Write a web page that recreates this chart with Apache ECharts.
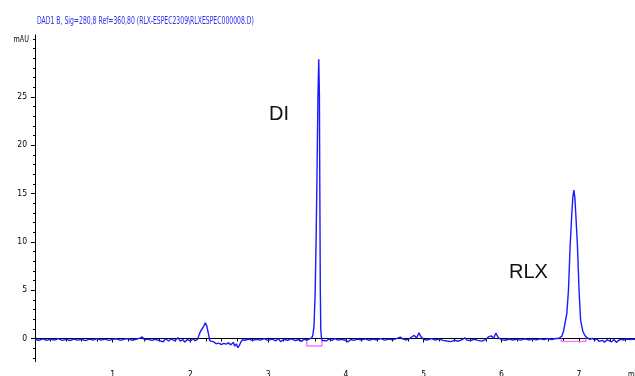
<!DOCTYPE html>
<html>
<head>
<meta charset="utf-8">
<script src="https://cdn.jsdelivr.net/npm/echarts@6/dist/echarts.min.js"></script>
<style>
  html, body { margin: 0; padding: 0; background: #fff; }
  #chart { width: 635px; height: 376px; }
</style>
</head>
<body>
<div id="chart"></div>
<script>
// Chromatogram trace: retention time (min) and detector response (mAU)
const timeMin = [
  0.00, 0.05, 0.10, 0.15, 0.20, 0.25, 0.30, 0.35, 0.40, 0.45,
  0.50, 0.55, 0.60, 0.65, 0.70, 0.75, 0.80, 0.85, 0.90, 0.95,
  1.00, 1.05, 1.10, 1.15, 1.20, 1.25, 1.30, 1.35, 1.38, 1.41,
  1.45, 1.50, 1.55, 1.60, 1.65, 1.68, 1.72, 1.75, 1.80, 1.84,
  1.87, 1.90, 1.93, 1.96, 2.00, 2.03, 2.06, 2.09, 2.11, 2.13,
  2.15, 2.17, 2.19, 2.21, 2.23, 2.25, 2.27, 2.30, 2.33, 2.36,
  2.40, 2.43, 2.46, 2.49, 2.52, 2.55, 2.57, 2.59, 2.61, 2.63,
  2.65, 2.67, 2.70, 2.75, 2.80, 2.85, 2.90, 2.95, 3.00, 3.05,
  3.10, 3.13, 3.16, 3.20, 3.25, 3.30, 3.35, 3.40, 3.43, 3.46,
  3.50, 3.53, 3.56, 3.575, 3.59, 3.605, 3.618, 3.63, 3.641, 3.651,
  3.659, 3.665, 3.671, 3.677, 3.685, 3.695, 3.72, 3.75, 3.78, 3.82,
  3.86, 3.90, 3.95, 4.00, 4.03, 4.06, 4.10, 4.15, 4.20, 4.25,
  4.30, 4.35, 4.40, 4.45, 4.50, 4.55, 4.60, 4.65, 4.70, 4.73,
  4.77, 4.81, 4.85, 4.88, 4.91, 4.94, 4.97, 5.00, 5.05, 5.10,
  5.15, 5.20, 5.25, 5.30, 5.35, 5.40, 5.45, 5.50, 5.53, 5.56,
  5.60, 5.65, 5.70, 5.75, 5.80, 5.84, 5.87, 5.90, 5.93, 5.96,
  6.00, 6.05, 6.10, 6.15, 6.20, 6.25, 6.30, 6.35, 6.40, 6.45,
  6.50, 6.55, 6.60, 6.65, 6.70, 6.735, 6.76, 6.78, 6.80, 6.82,
  6.843, 6.864, 6.885, 6.907, 6.92, 6.933, 6.946, 6.958, 6.98, 7.00,
  7.02, 7.05, 7.085, 7.11, 7.14, 7.17, 7.20, 7.23, 7.26, 7.28,
  7.30, 7.33, 7.36, 7.39, 7.42, 7.45, 7.48, 7.51, 7.54, 7.58,
  7.62, 7.66, 7.70, 7.72
];
const responseMAU = [
  -0.10, -0.18, -0.04, -0.20, -0.07, -0.16, -0.02, -0.19, -0.09, -0.21,
  -0.05, -0.17, -0.08, -0.22, -0.06, -0.15, -0.01, -0.17, -0.06, -0.19,
  -0.09, -0.03, -0.20, -0.07, -0.02, -0.18, -0.08, 0.04, 0.16, -0.14,
  -0.05, -0.19, -0.08, -0.22, -0.34, -0.02, -0.26, -0.05, -0.24, 0.08,
  -0.28, -0.10, -0.38, -0.08, -0.26, -0.02, -0.22, -0.10, 0.35, 0.75,
  0.85, 1.25, 1.62, 1.30, 0.55, -0.25, -0.42, -0.35, -0.55, -0.48,
  -0.62, -0.50, -0.58, -0.45, -0.66, -0.40, -0.78, -0.55, -0.95, -0.70,
  -0.35, -0.12, -0.18, -0.05, -0.20, -0.08, -0.17, -0.02, -0.19, -0.07,
  -0.24, 0.00, -0.32, -0.08, -0.18, -0.04, -0.21, -0.10, -0.30, -0.08,
  -0.16, -0.03, 0.05, 0.35, 1.3, 4.8, 10.8, 18.0, 25.2, 28.9,
  25.5, 15.0, 5.0, 1.0, 0.15, -0.20, -0.02, -0.25, -0.05, -0.19,
  -0.01, -0.17, -0.08, -0.21, -0.34, -0.10, -0.20, -0.05, -0.16, -0.03,
  -0.18, -0.07, -0.15, -0.02, -0.17, -0.06, -0.14, -0.01, 0.14, -0.04,
  -0.15, -0.06, 0.18, 0.32, 0.05, 0.58, 0.15, -0.10, -0.15, -0.02,
  -0.16, -0.07, -0.19, -0.26, -0.32, -0.18, -0.28, -0.10, 0.07, -0.17,
  -0.22, -0.08, -0.19, -0.27, -0.08, 0.20, 0.28, 0.02, 0.55, 0.10,
  -0.12, -0.18, -0.05, -0.16, -0.07, -0.17, -0.03, -0.15, -0.06, -0.14,
  -0.03, -0.12, -0.02, -0.10, 0.00, 0.00, 0.10, 0.25, 0.75, 1.6,
  2.6, 5.0, 9.5, 12.9, 14.6, 15.36, 14.6, 12.9, 9.5, 5.0,
  1.9, 0.7, 0.2, 0.05, -0.10, 0.02, -0.15, -0.05, -0.30, -0.45,
  -0.20, -0.38, -0.12, -0.25, -0.35, -0.10, -0.40, -0.18, -0.08, -0.15,
  -0.05, -0.12, -0.06, -0.10
];

// Integration baselines drawn under the two integrated peaks
const diBaseTime = [3.496, 3.496, 3.69, 3.69];
const diBaseMAU = [-0.15, -0.78, -0.78, -0.10];
const rlxBaseTime = [6.77, 6.77, 7.087, 7.087];
const rlxBaseMAU = [0.00, -0.30, -0.30, 0.00];

// Axis ticks and labels
const xMajorTicks = [1, 2, 3, 4, 5, 6, 7];
const xMinorTicks = [0.2, 0.4, 0.6, 0.8, 1.2, 1.4, 1.6, 1.8, 2.2, 2.4, 2.6, 2.8,
  3.2, 3.4, 3.6, 3.8, 4.2, 4.4, 4.6, 4.8, 5.2, 5.4, 5.6, 5.8, 6.2, 6.4, 6.6, 6.8,
  7.2, 7.4, 7.6];
const yMajorTicks = [0, 5, 10, 15, 20, 25];
const yMinorTicks = [-2, -1, 1, 2, 3, 4, 6, 7, 8, 9, 11, 12, 13, 14, 16, 17, 18, 19,
  21, 22, 23, 24, 26, 27, 28, 29, 30, 31];

const titleText = 'DAD1 B, Sig=280,8 Ref=360,80 (RLX-ESPEC2309\\RLXESPEC000008.D)';
const peakNames = ['DI', 'RLX'];

const pairs = (xs, ys) => xs.map((x, i) => [x, ys[i]]);

const narrow = "'Liberation Sans Narrow', 'DejaVu Sans Condensed', 'Liberation Sans', sans-serif";

const chart = echarts.init(document.getElementById('chart'), null, { renderer: 'canvas' });

const hiddenAxisParts = {
  axisLine: { show: false },
  axisLabel: { show: false },
  splitLine: { show: false }
};

chart.setOption({
  animation: false,
  backgroundColor: '#ffffff',
  grid: { left: 35, right: 0, top: 35, bottom: 14.3, containLabel: false, outerBoundsMode: 'none' },
  xAxis: [
    {
      type: 'value', min: 0, max: 7.72,
      axisLine: { show: true, lineStyle: { color: '#000', width: 1 } },
      axisTick: { show: true, customValues: xMajorTicks, length: 4, lineStyle: { color: '#000' } },
      axisLabel: { show: true, customValues: xMajorTicks, margin: 9, fontSize: 8.5, color: '#000', fontFamily: narrow },
      splitLine: { show: false }
    },
    Object.assign({
      type: 'value', min: 0, max: 7.72, position: 'bottom',
      axisTick: { show: true, customValues: xMinorTicks, length: 3, lineStyle: { color: '#000' } }
    }, hiddenAxisParts)
  ],
  yAxis: [
    {
      type: 'value', min: -2.4, max: 31.4,
      axisLine: { show: true, lineStyle: { color: '#000', width: 1 } },
      axisTick: { show: true, customValues: yMajorTicks, length: 4, lineStyle: { color: '#000' } },
      axisLabel: { show: true, customValues: yMajorTicks, margin: 8, fontSize: 8.5, color: '#000', fontFamily: narrow },
      splitLine: { show: false }
    },
    Object.assign({
      type: 'value', min: -2.4, max: 31.4, position: 'left',
      axisTick: { show: true, customValues: yMinorTicks, length: 2, lineStyle: { color: '#000' } }
    }, hiddenAxisParts)
  ],
  series: [
    {
      name: 'DI baseline', type: 'line', showSymbol: false, silent: true,
      data: pairs(diBaseTime, diBaseMAU),
      lineStyle: { color: '#ff70ff', width: 1.4 }
    },
    {
      name: 'RLX baseline', type: 'line', showSymbol: false, silent: true,
      data: pairs(rlxBaseTime, rlxBaseMAU),
      lineStyle: { color: '#ff70ff', width: 1.4 }
    },
    {
      name: 'DAD1 B', type: 'line', showSymbol: false, silent: true,
      data: pairs(timeMin, responseMAU),
      lineStyle: { color: '#1a1aff', width: 1.4, join: 'bevel' }
    }
  ],
  graphic: [
    { type: 'text', x: 37, y: 21, scaleX: 0.68, style: { text: titleText, fill: '#2f2fef', font: '10px ' + narrow, textVerticalAlign: 'middle' } },
    { type: 'text', x: 29, y: 40, scaleX: 0.8, style: { text: 'mAU', fill: '#000', font: '9px ' + narrow, textAlign: 'right', textVerticalAlign: 'middle' } },
    { type: 'text', x: 628, y: 375, scaleX: 0.8, style: { text: 'min', fill: '#000', font: '9px ' + narrow, textAlign: 'left', textVerticalAlign: 'middle' } },
    { type: 'text', x: 269, y: 114, style: { text: peakNames[0], fill: '#111', font: '20px "Liberation Sans", Arial, sans-serif', textVerticalAlign: 'middle' } },
    { type: 'text', x: 509, y: 272, style: { text: peakNames[1], fill: '#111', font: '20px "Liberation Sans", Arial, sans-serif', textVerticalAlign: 'middle' } }
  ]
});
</script>
</body>
</html>
